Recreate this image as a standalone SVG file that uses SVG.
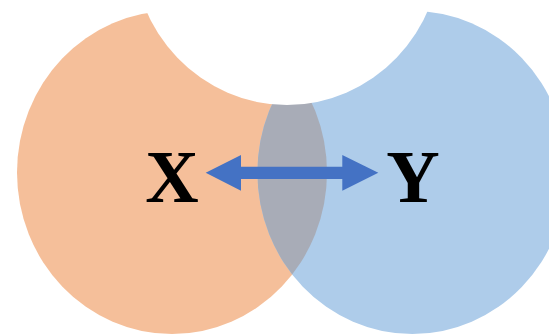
<svg xmlns="http://www.w3.org/2000/svg" width="549" height="336" viewBox="0 0 549 336">
<style>
.lbl{font-family:"Liberation Serif","Times New Roman",serif;font-weight:bold;font-size:74px;fill:#000;text-anchor:middle}
.arr{fill:#4472C4}
</style>
<defs>
<clipPath id="clipO"><ellipse cx="172" cy="172.5" rx="155" ry="161.5"/></clipPath>
</defs>
<rect width="549" height="336" fill="#fff"/>
<g id="X">
<ellipse cx="172" cy="172.5" rx="155" ry="161.5" fill="#F5BF9A"/>
</g>
<g id="Y">
<ellipse cx="412.4" cy="172.5" rx="155" ry="161.5" fill="#AECCEA"/>
</g>
<g id="overlap">
<ellipse cx="412.4" cy="172.5" rx="155" ry="161.5" fill="#A8ACB7" clip-path="url(#clipO)"/>
</g>
<g id="top-cut">
<ellipse cx="287" cy="-56.5" rx="155" ry="161.5" fill="#fff"/>
</g>
<g id="connectors">
<path class="arr" d="M205.7,172.8 L241,155 L241,166.7 L342.3,166.7 L342.3,155 L378.3,172.8 L342.3,190.7 L342.3,179 L241,179 L241,190.7 Z"/>
</g>
<g id="label-X"><text class="lbl" x="172" y="202">X</text></g>
<g id="label-Y"><text class="lbl" x="413" y="202">Y</text></g>
</svg>
